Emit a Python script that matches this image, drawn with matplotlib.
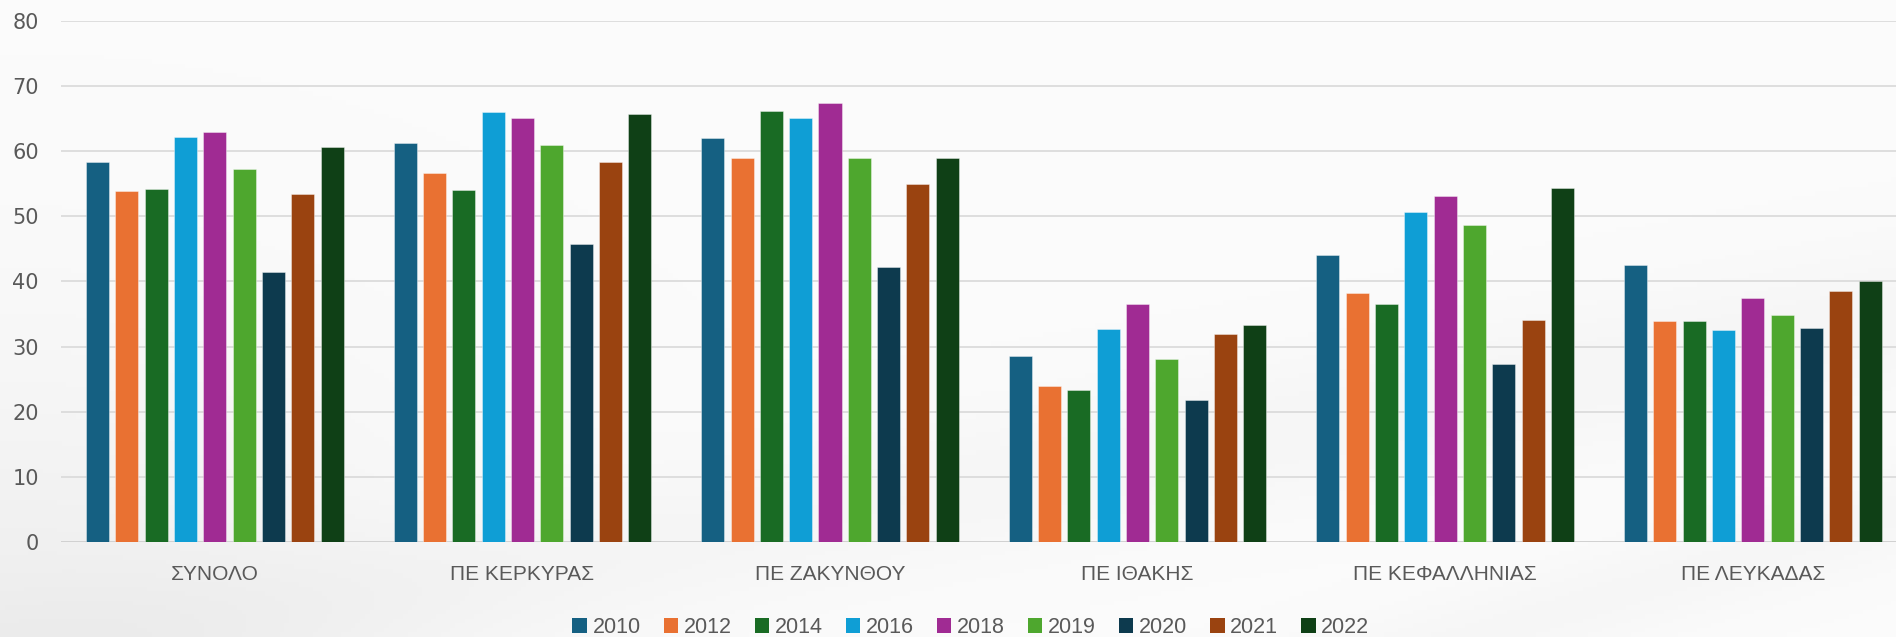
import numpy as np
import matplotlib
matplotlib.use("Agg")
import matplotlib.pyplot as plt
from matplotlib.patches import Patch

categories = ["ΣΥΝΟΛΟ", "ΠΕ ΚΕΡΚΥΡΑΣ", "ΠΕ ΖΑΚΥΝΘΟΥ", "ΠΕ ΙΘΑΚΗΣ", "ΠΕ ΚΕΦΑΛΛΗΝΙΑΣ", "ΠΕ ΛΕΥΚΑΔΑΣ"]
years = ["2010", "2012", "2014", "2016", "2018", "2019", "2020", "2021", "2022"]

v2010 = [58.4, 61.3, 62.0, 28.5, 44.1, 42.5]
v2012 = [53.9, 56.7, 58.9, 23.9, 38.2, 34.0]
v2014 = [54.2, 54.1, 66.2, 23.3, 36.5, 34.0]
v2016 = [62.1, 66.0, 65.1, 32.7, 50.6, 32.5]
v2018 = [63.0, 65.0, 67.4, 36.6, 53.1, 37.4]
v2019 = [57.3, 60.9, 59.0, 28.1, 48.6, 34.9]
v2020 = [41.5, 45.8, 42.2, 21.8, 27.3, 32.9]
v2021 = [53.4, 58.4, 54.9, 32.0, 34.1, 38.5]
v2022 = [60.7, 65.7, 59.0, 33.3, 54.4, 40.0]
series = [v2010, v2012, v2014, v2016, v2018, v2019, v2020, v2021, v2022]

colors = ["#156082", "#E97132", "#196B24", "#0F9ED5", "#A02B93",
          "#4EA72E", "#0D3A4E", "#9A4310", "#0F4016"]

W, H = 1896, 637
fig = plt.figure(figsize=(W / 100, H / 100), dpi=100)

# soft decorative background
bg = fig.add_axes([0, 0, 1, 1], zorder=-10)
xx, yy = np.meshgrid(np.linspace(0, 1, 400), np.linspace(0, 1, 140))
base = np.full_like(xx, 0.985)
base -= 0.045 * np.exp(-((xx / 0.22) ** 2 + ((yy - 1.0) / 0.45) ** 2))
d = (yy - (1.05 - 0.55 * xx))
base -= 0.02 * np.exp(-(d / 0.12) ** 2)
d2 = (yy - (1.3 - 0.9 * (xx - 0.45)))
base -= 0.018 * np.exp(-(d2 / 0.08) ** 2) * (xx > 0.4)
base = np.clip(base, 0, 1)
bg.imshow(np.dstack([base, base, base]), aspect="auto", extent=(0, 1, 0, 1), origin="upper")
bg.set_axis_off()

ax = fig.add_axes([61 / W, (H - 542.3) / H, 1845.6 / W, 521.6 / H])
ax.patch.set_alpha(0)

n = len(series)
step = 0.0953
bw = 0.0748
x = np.arange(len(categories))
for i, (vals, c) in enumerate(zip(series, colors)):
    off = (i - (n - 1) / 2) * step
    ax.bar(x + off, vals, width=bw, color=c, edgecolor=(1, 1, 1, 0.45),
           linewidth=0.6, zorder=3)

ax.set_xlim(-0.5, len(categories) - 0.5)
ax.set_ylim(0, 80)
ax.set_yticks(np.arange(0, 81, 10))
ax.yaxis.grid(True, color="#d9d9d9", linewidth=1.2, zorder=0)
ax.set_axisbelow(True)
for s in ax.spines.values():
    s.set_visible(False)
ax.axhline(0, color="#d0d0d0", linewidth=1.3, zorder=2)

ax.set_xticks(x)
ax.set_xticklabels(categories, fontsize=15, color="#595959", family="Liberation Sans")
ax.tick_params(axis="x", length=0, pad=16)
ax.tick_params(axis="y", length=0, pad=16, labelsize=15, labelcolor="#595959")
for lab in ax.get_yticklabels():
    lab.set_family("DejaVu Sans")

handles = [Patch(facecolor=c, edgecolor="none") for c in colors]
leg = fig.legend(handles, years, loc="center", ncol=9,
                 bbox_to_anchor=(970.8 / W, 1 - 627.5 / H),
                 frameon=False, handlelength=0.68, handleheight=0.68,
                 handletextpad=0.25, columnspacing=1.07, borderpad=0,
                 prop={"family": "Liberation Sans", "size": 15.5})
for t in leg.get_texts():
    t.set_color("#595959")

fig.savefig("out.png", dpi=100)
